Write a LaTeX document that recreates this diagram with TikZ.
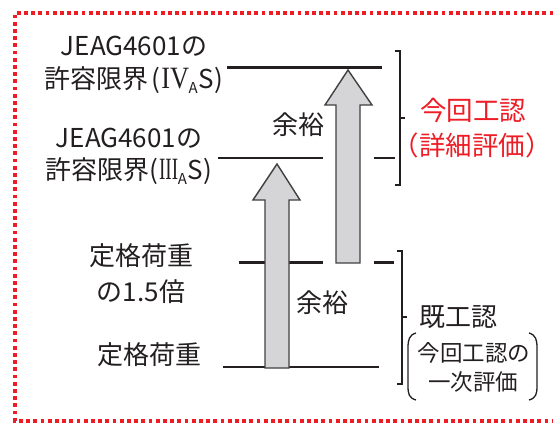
\documentclass[tikz,border=0pt]{standalone}
\usepackage{fontspec}
\newfontfamily\jp{Noto Sans CJK JP}
\newfontfamily\romfont{Liberation Serif}
\definecolor{txt}{HTML}{231F20}
\definecolor{redc}{HTML}{EE1C25}
\definecolor{arrfill}{HTML}{D5D5D7}
\definecolor{arrdraw}{HTML}{404040}
\newcommand{\subA}{\kern-0.5pt\raisebox{-0.4ex}{\fontsize{15}{15}\selectfont A}\kern0.5pt}
\newcommand{\romIV}{{\romfont\fontsize{31}{31}\selectfont\scalebox{0.85}[1]{IV}}}
\newcommand{\romIII}{{\romfont\fontsize{31}{31}\selectfont\scalebox{0.62}[1]{III}}}
\tikzset{
  lbl/.style={inner sep=0pt, font=\jp\fontsize{26}{29}\selectfont, text=txt},
  lblsmall/.style={inner sep=0pt, font=\jp\fontsize{22.5}{25}\selectfont, text=txt},
  redlbl/.style={inner sep=0pt, font=\jp\fontsize{26.5}{29}\selectfont, text=redc},
  level/.style={draw=txt, line width=1.5pt},
  levelthick/.style={draw=txt, line width=3pt},
  brack/.style={draw=txt, line width=1.5pt},
  blockarrow/.style={fill=arrfill, draw=arrdraw, line width=1.4pt, line join=miter},
  border/.style={draw=redc, line width=3.8pt, dash pattern=on 3.8pt off 3.4pt}
}
\begin{document}
\begin{tikzpicture}[x=1pt,y=-1pt]
\useasboundingbox (0,0) rectangle (553,423);
\begin{scope}
\clip (0,0) rectangle (553,423);
\draw[border] (575,13) -- (15,13) -- (15,421) -- (575,421);
\end{scope}

% labels left
\node[lbl] (jeag1) at (134,46) {JEAG4601の};
\node[lbl] (lim4) at (134,80) {許容限界\kern3pt(\kern1pt\romIV\subA S\kern1pt)};
\node[lbl] (jeag2) at (129,138) {JEAG4601の};
\node[lbl] (lim3) at (129,171) {許容限界(\kern1pt\romIII\subA S\kern1pt)};
\node[lbl] (t15a) at (141,256) {定格荷重};
\node[lbl] (t15b) at (141,292) {の1.5倍};
\node[lbl] (t1) at (149,355) {定格荷重};

% levels
\draw[levelthick] (227,67) -- (382,67);
\draw[level] (218,158) -- (323,158);
\draw[level] (374,158) -- (395,158);
\draw[levelthick] (239,262) -- (266,262);
\draw[levelthick] (288,262) -- (323,262);
\draw[levelthick] (374,262) -- (394,262);
\draw[level] (223,367) -- (379,367);
\draw[line width=2.5pt, draw=txt] (251,367) -- (302,367);

% block arrows
\draw[blockarrow] (336,263) -- (336,105) -- (325,105) -- (348,70) -- (372,105) -- (360,105) -- (360,263) -- cycle;
\draw[blockarrow] (265,368) -- (265,200) -- (253,200) -- (277,164) -- (300,200) -- (289,200) -- (289,368) -- cycle;

% margins
\node[lbl] (y1) at (298,125) {余裕};
\node[lbl] (y2) at (322,303) {余裕};

% upper bracket
\draw[brack] (395,51) -- (400,51) -- (400,185) -- (395,185);
\draw[brack] (400,118) -- (405,118);
\node[redlbl] (r1) at (473,110) {今回工認};
\node[redlbl] (r2) at (472,145) {（詳細評価）};

% lower bracket
\draw[brack] (397,251) -- (402,251) -- (402,384) -- (397,384);
\draw[brack] (402,317) -- (407,317);
\node[lbl] (k1) at (458,317) {既工認};
\node[lblsmall] (s1) at (474,353) {今回工認の};
\node[lblsmall] (s2) at (473,382) {一次評価};
\draw[brack, line width=1.3pt] (416,333) .. controls (409,335) and (408,340) .. (408,348) -- (408,386) .. controls (408,394) and (409,398) .. (416,400);
\draw[brack, line width=1.3pt] (529,333) .. controls (536,335) and (537,340) .. (537,348) -- (537,386) .. controls (537,394) and (536,398) .. (529,400);
\end{tikzpicture}
\end{document}
